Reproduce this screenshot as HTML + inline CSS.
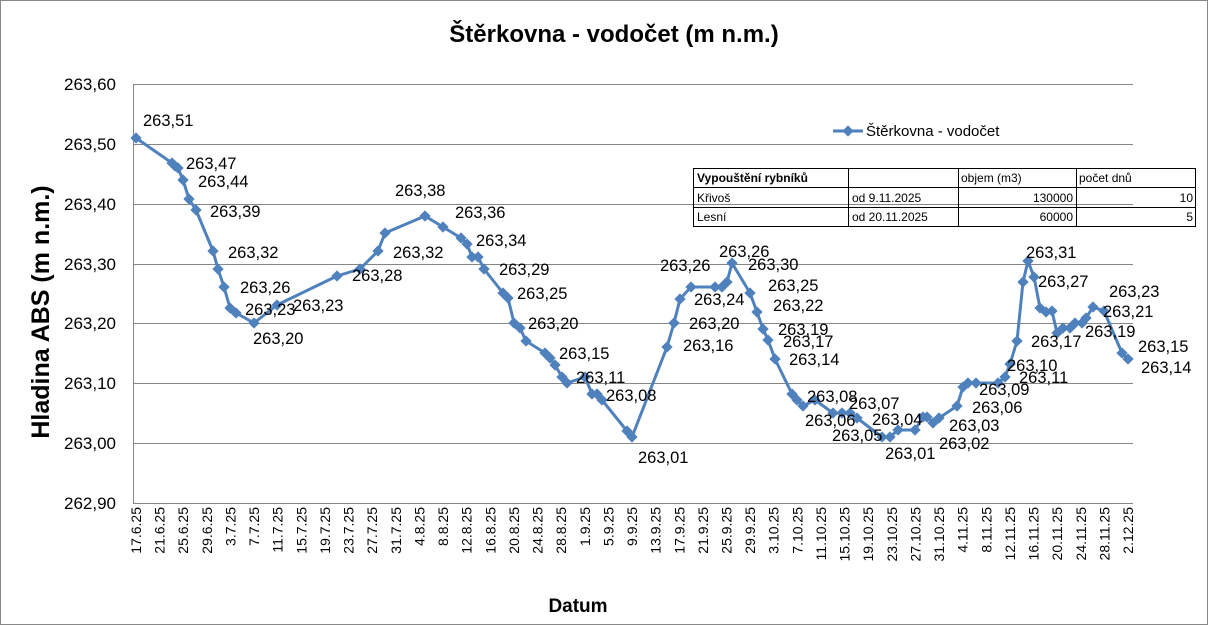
<!DOCTYPE html>
<html><head><meta charset="utf-8"><style>
body{margin:0;background:#fff}
svg{display:block;font-family:"Liberation Sans",sans-serif}
</style></head><body>
<svg width="1208" height="625" viewBox="0 0 1208 625">
<rect x="0.5" y="0.5" width="1207" height="624" fill="#fff" stroke="#888"/>
<text x="614" y="42" text-anchor="middle" font-size="24" font-weight="bold">Štěrkovna - vodočet  (m n.m.)</text>
<g stroke="#868686" stroke-width="1">
<line x1="133" y1="84.5" x2="1133" y2="84.5"/><line x1="133" y1="144.5" x2="1133" y2="144.5"/>
<line x1="133" y1="204.5" x2="1133" y2="204.5"/><line x1="133" y1="264.5" x2="1133" y2="264.5"/>
<line x1="133" y1="323.5" x2="1133" y2="323.5"/><line x1="133" y1="383.5" x2="1133" y2="383.5"/>
<line x1="133" y1="443.5" x2="1133" y2="443.5"/><line x1="133" y1="503.5" x2="1133" y2="503.5"/>
<line x1="133.5" y1="84" x2="133.5" y2="503"/>
</g>
<g font-size="17" text-anchor="end">
<text x="116" y="90">263,60</text><text x="116" y="150">263,50</text><text x="116" y="210">263,40</text>
<text x="116" y="270">263,30</text><text x="116" y="329">263,20</text><text x="116" y="389">263,10</text>
<text x="116" y="449">263,00</text><text x="116" y="509">262,90</text>
</g>
<text transform="translate(49,312) rotate(-90)" text-anchor="middle" font-size="25" font-weight="bold">Hladina ABS  (m  n.m.)</text>
<text x="578" y="612" text-anchor="middle" font-size="19" font-weight="bold">Datum</text>
<g id="xl" font-size="14" text-anchor="end"></g>
<polyline fill="none" stroke="#4f81bd" stroke-width="3" stroke-linejoin="round" id="ln" points=""/>
<g id="mk" fill="#4f81bd"></g>
<g font-size="16.5">
<text x="143" y="126">263,51</text><text x="186" y="169">263,47</text><text x="198" y="187">263,44</text>
<text x="210" y="217">263,39</text><text x="228" y="258">263,32</text><text x="240" y="293">263,26</text>
<text x="245" y="315">263,23</text><text x="293" y="311">263,23</text><text x="253" y="344">263,20</text>
<text x="352" y="281">263,28</text><text x="393" y="258">263,32</text><text x="395" y="196">263,38</text>
<text x="455" y="218">263,36</text><text x="476" y="246">263,34</text><text x="499" y="275">263,29</text>
<text x="517" y="299">263,25</text><text x="528" y="329">263,20</text><text x="559" y="359">263,15</text>
<text x="576" y="383">263,11</text><text x="606" y="401">263,08</text><text x="638" y="463">263,01</text>
<text x="683" y="351">263,16</text><text x="689" y="329">263,20</text><text x="694" y="305">263,24</text>
<text x="660" y="271">263,26</text><text x="719" y="257">263,26</text><text x="748" y="270">263,30</text>
<text x="768" y="291">263,25</text><text x="773" y="311">263,22</text><text x="778" y="335">263,19</text>
<text x="783" y="347">263,17</text><text x="789" y="365">263,14</text><text x="807" y="402">263,08</text>
<text x="805" y="426">263,06</text><text x="832" y="441">263,05</text><text x="849" y="409">263,07</text>
<text x="872" y="425">263,04</text><text x="885" y="459">263,01</text><text x="939" y="449">263,02</text>
<text x="949" y="431">263,03</text><text x="972" y="413">263,06</text><text x="979" y="395">263,09</text>
<text x="1007" y="371">263,10</text><text x="1019" y="383">263,11</text><text x="1026" y="258">263,31</text>
<text x="1038" y="287">263,27</text><text x="1031" y="347">263,17</text><text x="1085" y="337">263,19</text>
<text x="1103" y="317">263,21</text><text x="1109" y="297">263,23</text><text x="1138" y="352">263,15</text>
<text x="1141" y="373">263,14</text>
</g>
<line x1="833" y1="131" x2="863" y2="131" stroke="#4f81bd" stroke-width="3"/>
<rect x="844" y="127" width="8" height="8" fill="#4f81bd" transform="rotate(45 848 131)"/>
<text x="866" y="136" font-size="15">Štěrkovna - vodočet</text>
<g stroke="#000" stroke-width="1" fill="none">
<rect x="693.5" y="168.5" width="502" height="58"/>
<line x1="693" y1="187.5" x2="1196" y2="187.5"/><line x1="693" y1="207.5" x2="1196" y2="207.5"/>
<line x1="848.5" y1="168" x2="848.5" y2="227"/><line x1="958.5" y1="168" x2="958.5" y2="227"/><line x1="1076.5" y1="168" x2="1076.5" y2="227"/>
</g>
<g font-size="12">
<text x="697" y="182" font-weight="bold">Vypouštění rybníků</text><text x="961" y="182">objem  (m3)</text><text x="1079" y="182">počet dnů</text>
<text x="697" y="202">Křivoš</text><text x="852" y="202">od 9.11.2025</text><text x="1073" y="202" text-anchor="end">130000</text><text x="1193" y="202" text-anchor="end">10</text>
<text x="697" y="221">Lesní</text><text x="852" y="221">od 20.11.2025</text><text x="1073" y="221" text-anchor="end">60000</text><text x="1193" y="221" text-anchor="end">5</text>
</g>
</svg>
<script>
var P=[[136,138],[172,163],[175,166],[178,168],[183,180],[189,199],[196,210],[213,251],[218,269],[224,287],[230,308],[236,313],[254,323],[277,305],[337,276],[360,269],[378,251],[385,233],[425,216],[443,227],[461,238],[467,244],[472,257],[478,257],[484,269],[503,293],[508,298],[514,323],[520,328],[526,341],[545,353],[550,358],[555,365],[562,377],[567,383],[585,377],[592,394],[597,394],[602,400],[627,431],[632,437],[667,347],[674,323],[680,299],[691,287],[715,287],[722,287],[727,282],[732,263],[750,293],[757,312],[763,329],[768,340],[775,359],[792,394],[797,400],[803,406],[815,400],[833,413],[842,413],[850,413],[857,418],[882,437],[890,437],[898,430],[915,430],[923,417],[927,417],[933,423],[939,418],[957,406],[963,387],[968,383],[976,383],[998,383],[1005,377],[1010,364],[1017,341],[1023,282],[1028,261],[1034,277],[1040,308],[1046,312],[1052,311],[1057,333],[1063,328],[1070,328],[1075,323],[1082,323],[1086,318],[1093,307],[1104,311],[1122,353],[1128,359]];
var ns="http://www.w3.org/2000/svg";
document.getElementById("ln").setAttribute("points",P.map(p=>p.join(",")).join(" "));
var mk=document.getElementById("mk");
P.forEach(p=>{var r=document.createElementNS(ns,"rect");r.setAttribute("x",p[0]-4);r.setAttribute("y",p[1]-4);r.setAttribute("width",8);r.setAttribute("height",8);r.setAttribute("transform","rotate(45 "+p[0]+" "+p[1]+")");mk.appendChild(r);});
var xl=document.getElementById("xl");var d=new Date(2025,5,17);
for(var i=0;i<43;i++){var x=136+i*23.62;var t=document.createElementNS(ns,"text");t.setAttribute("transform","translate("+(x+5)+",507) rotate(-90)");t.textContent=d.getDate()+"."+(d.getMonth()+1)+".25";xl.appendChild(t);d.setDate(d.getDate()+4);}
</script>
</body></html>
